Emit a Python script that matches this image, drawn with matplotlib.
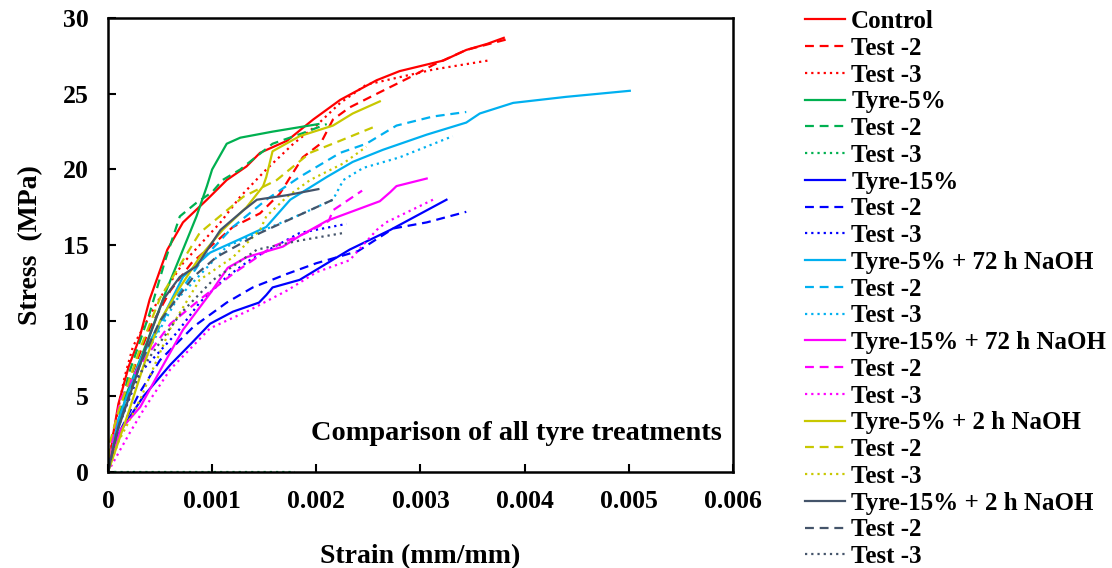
import numpy as np
import matplotlib.pyplot as plt

# strain (mm/mm) and stress (MPa)
ctrl_x = [0, 0.00005, 0.0001, 0.0002, 0.0003, 0.0004, 0.00057, 0.00072, 0.00095, 0.00114, 0.00133, 0.00146, 0.00172, 0.00197, 0.00223, 0.00258, 0.0028, 0.00322, 0.00344, 0.00364, 0.0038]
ctrl_y = [0, 2.5, 4.5, 7.0, 8.8, 11.4, 14.7, 16.5, 18.0, 19.3, 20.2, 21.1, 21.9, 23.3, 24.6, 25.9, 26.5, 27.2, 27.9, 28.3, 28.7]
ctrl2_x = [0, 0.0001, 0.0002, 0.0004, 0.0006, 0.0008, 0.001, 0.0012, 0.00146, 0.00165, 0.00187, 0.00204, 0.00216, 0.00232, 0.00258, 0.00293, 0.00312, 0.00344, 0.00383]
ctrl2_y = [0, 3.5, 6.0, 9.5, 12.0, 13.8, 15.0, 16.2, 17.1, 18.4, 20.8, 21.7, 23.3, 24.1, 25.0, 26.2, 26.9, 27.9, 28.6]
ctrl3_x = [0, 0.00005, 0.00016, 0.00024, 0.00047, 0.00072, 0.00108, 0.00127, 0.00152, 0.00178, 0.002, 0.00223, 0.00248, 0.0028, 0.00312, 0.00365]
ctrl3_y = [0, 2.5, 6.3, 8.3, 11.2, 13.8, 16.5, 18.2, 20.0, 21.7, 22.9, 24.4, 25.6, 26.1, 26.6, 27.2]

t5_x = [0, 0.0001, 0.00018, 0.00037, 0.00056, 0.00072, 0.00085, 0.00095, 0.001, 0.00114, 0.00127, 0.00158, 0.00202]
t5_y = [0, 3.0, 5.2, 8.5, 12.0, 14.7, 16.9, 18.9, 20.0, 21.7, 22.1, 22.5, 23.0]
t5_2_x = [0, 0.0001, 0.0002, 0.0004, 0.00055, 0.00069, 0.00085, 0.001, 0.0011, 0.00127, 0.00158, 0.00187, 0.0021]
t5_2_y = [0, 3.5, 6.5, 10.5, 14.0, 16.9, 17.8, 18.5, 19.3, 20.0, 21.7, 22.4, 23.0]
t5_3_x = [0, 0.0006, 0.0012, 0.0018]
t5_3_y = [0, 0, 0, 0]

t15_x = [0, 0.0001, 0.00034, 0.0006, 0.0008, 0.00098, 0.0012, 0.00145, 0.00152, 0.00158, 0.00184, 0.00232, 0.00271, 0.00325]
t15_y = [0, 2.5, 5.0, 7.1, 8.5, 9.8, 10.6, 11.2, 11.7, 12.2, 12.7, 14.7, 16.0, 18.0]
t15_2_x = [0, 0.0001, 0.0003, 0.0005, 0.00082, 0.00114, 0.00139, 0.00172, 0.002, 0.0024, 0.00274, 0.00306, 0.00344]
t15_2_y = [0, 2.5, 5.2, 7.4, 9.6, 11.2, 12.2, 13.1, 13.8, 14.6, 16.1, 16.5, 17.2]
t15_3_x = [0, 0.0001, 0.0003, 0.00066, 0.00088, 0.00114, 0.00136, 0.00184, 0.00229]
t15_3_y = [0, 3.0, 6.5, 9.2, 11.2, 12.9, 14.0, 15.8, 16.4]

n72_5_x = [0, 0.0001, 0.00031, 0.00056, 0.00072, 0.00098, 0.0013, 0.00152, 0.00175, 0.0021, 0.00235, 0.00264, 0.00306, 0.00344, 0.00357, 0.00389, 0.0044, 0.00501]
n72_5_y = [0, 3.5, 7.4, 10.7, 12.9, 14.5, 15.5, 16.2, 18.0, 19.5, 20.5, 21.3, 22.3, 23.1, 23.7, 24.4, 24.8, 25.2]
n72_5_2_x = [0, 0.0001, 0.0003, 0.0006, 0.0009, 0.0012, 0.00152, 0.00184, 0.00223, 0.00248, 0.00277, 0.00312, 0.00344]
n72_5_2_y = [0, 3.0, 7.0, 11.0, 14.0, 16.2, 18.0, 19.5, 21.1, 21.7, 22.9, 23.5, 23.8]
n72_5_3_x = [0, 0.0001, 0.0003, 0.00066, 0.00114, 0.0015, 0.00184, 0.00216, 0.00226, 0.00245, 0.0028, 0.00331]
n72_5_3_y = [0, 3.0, 7.0, 11.4, 14.9, 16.0, 17.0, 18.0, 19.3, 20.1, 20.8, 22.2]

n72_15_x = [0, 0.00012, 0.00031, 0.0005, 0.00072, 0.00098, 0.00115, 0.00133, 0.00168, 0.00184, 0.0021, 0.00261, 0.00271, 0.00277, 0.00306]
n72_15_y = [0, 2.8, 4.3, 6.7, 9.4, 11.8, 13.5, 14.2, 14.9, 15.6, 16.6, 17.9, 18.5, 18.9, 19.4]
n72_15_2_x = [0, 0.00005, 0.00012, 0.0003, 0.0006, 0.0009, 0.0012, 0.00158, 0.0019, 0.00212, 0.00216, 0.00244]
n72_15_2_y = [0, 2.5, 4.8, 7.0, 9.8, 11.5, 13.1, 14.9, 15.8, 16.6, 17.3, 18.6]
n72_15_3_x = [0, 0.00012, 0.00021, 0.00034, 0.0006, 0.00098, 0.00136, 0.00172, 0.002, 0.00232, 0.00258, 0.00267, 0.00312]
n72_15_3_y = [0, 1.5, 2.6, 4.1, 6.8, 9.5, 10.7, 12.0, 13.2, 14.0, 16.0, 16.5, 18.0]

n2_5_x = [0, 0.0001, 0.0002, 0.00034, 0.0005, 0.00069, 0.00088, 0.0011, 0.00133, 0.00149, 0.00152, 0.00158, 0.00184, 0.00216, 0.00235, 0.00261]
n2_5_y = [0, 2.0, 4.0, 7.0, 10.0, 12.2, 14.2, 16.0, 17.5, 18.9, 19.5, 21.2, 22.2, 22.9, 23.7, 24.5]
n2_5_2_x = [0, 0.00002, 0.0001, 0.0003, 0.0005, 0.00072, 0.00088, 0.0013, 0.00162, 0.00194, 0.00223, 0.00255]
n2_5_2_y = [0, 2.0, 4.0, 8.0, 11.5, 14.0, 15.8, 18.2, 19.3, 21.1, 21.9, 22.8]
n2_5_3_x = [0, 0.0001, 0.00031, 0.0004, 0.0006, 0.00088, 0.0012, 0.00146, 0.00152, 0.00172, 0.00194, 0.00226, 0.00248]
n2_5_3_y = [0, 2.0, 4.8, 6.3, 9.5, 12.7, 14.2, 16.0, 16.9, 18.2, 19.3, 20.4, 21.5]

n2_15_x = [0, 0.00008, 0.00018, 0.00027, 0.0004, 0.00053, 0.00069, 0.00085, 0.00108, 0.0013, 0.00143, 0.00172, 0.00202]
n2_15_y = [0, 2.5, 4.5, 6.3, 9.0, 11.4, 12.9, 13.6, 16.0, 17.3, 18.0, 18.3, 18.7]
n2_15_2_x = [0, 0.0001, 0.0003, 0.0005, 0.00082, 0.00104, 0.00146, 0.00181, 0.00216]
n2_15_2_y = [0, 3.0, 7.0, 10.0, 12.9, 14.2, 15.8, 16.9, 18.0]
n2_15_3_x = [0, 0.0001, 0.00024, 0.0004, 0.0007, 0.00101, 0.00143, 0.00184, 0.00226]
n2_15_3_y = [0, 3.0, 5.6, 7.6, 10.5, 12.7, 14.7, 15.3, 15.8]

FONT = 'Liberation Serif'
plt.rcParams['font.family'] = FONT
plt.rcParams['font.weight'] = 'bold'

fig = plt.figure(figsize=(11.12, 5.68), dpi=100)
ax = fig.add_axes([0.0971, 0.169, 0.562, 0.799])

dash = (0, (4, 2.6))
dot = (0, (1, 1.8))

series = [
    (ctrl_x, ctrl_y, '#ff0000', '-', 'Control'),
    (ctrl2_x, ctrl2_y, '#ff0000', dash, 'Test -2'),
    (ctrl3_x, ctrl3_y, '#ff0000', dot, 'Test -3'),
    (t5_x, t5_y, '#00b050', '-', 'Tyre-5%'),
    (t5_2_x, t5_2_y, '#00b050', dash, 'Test -2'),
    (t5_3_x, t5_3_y, '#00b050', dot, 'Test -3'),
    (t15_x, t15_y, '#0000ff', '-', 'Tyre-15%'),
    (t15_2_x, t15_2_y, '#0000ff', dash, 'Test -2'),
    (t15_3_x, t15_3_y, '#0000ff', dot, 'Test -3'),
    (n72_5_x, n72_5_y, '#00b0f0', '-', 'Tyre-5% + 72 h NaOH'),
    (n72_5_2_x, n72_5_2_y, '#00b0f0', dash, 'Test -2'),
    (n72_5_3_x, n72_5_3_y, '#00b0f0', dot, 'Test -3'),
    (n72_15_x, n72_15_y, '#ff00ff', '-', 'Tyre-15% + 72 h NaOH'),
    (n72_15_2_x, n72_15_2_y, '#ff00ff', dash, 'Test -2'),
    (n72_15_3_x, n72_15_3_y, '#ff00ff', dot, 'Test -3'),
    (n2_5_x, n2_5_y, '#c8c800', '-', 'Tyre-5% + 2 h NaOH'),
    (n2_5_2_x, n2_5_2_y, '#c8c800', dash, 'Test -2'),
    (n2_5_3_x, n2_5_3_y, '#c8c800', dot, 'Test -3'),
    (n2_15_x, n2_15_y, '#44546a', '-', 'Tyre-15% + 2 h NaOH'),
    (n2_15_2_x, n2_15_2_y, '#44546a', dash, 'Test -2'),
    (n2_15_3_x, n2_15_3_y, '#44546a', dot, 'Test -3'),
]

for x, y, c, ls, lab in series:
    ax.plot(x, y, color=c, linestyle=ls, lw=1.6, label=lab)

ax.set_xlim(0, 0.006)
ax.set_ylim(0, 30)
ax.set_xticks(np.arange(0, 0.0061, 0.001))
ax.set_xticklabels(['0', '0.001', '0.002', '0.003', '0.004', '0.005', '0.006'])
ax.set_yticks(range(0, 31, 5))
ax.tick_params(direction='in', length=6, width=1.5, labelsize=18.5, pad=13)
ax.tick_params(axis='y', pad=14)
for s in ax.spines.values():
    s.set_linewidth(1.8)

ax.set_xlabel('Strain (mm/mm)', fontsize=20, fontweight='bold', labelpad=22)
ax.set_ylabel('Stress  (MPa)', fontsize=20, fontweight='bold', labelpad=14)
ax.text(0.982, 0.084, 'Comparison of all tyre treatments', transform=ax.transAxes,
        ha='right', va='center', fontsize=20.4, fontweight='bold')

fig.legend(loc='upper left', bbox_to_anchor=(805 / 1112, 0.982), frameon=False,
           fontsize=18, handlelength=1.6, handletextpad=0.25, labelspacing=0.15,
           borderpad=0, borderaxespad=0)

fig.savefig('out.png', dpi=100)
